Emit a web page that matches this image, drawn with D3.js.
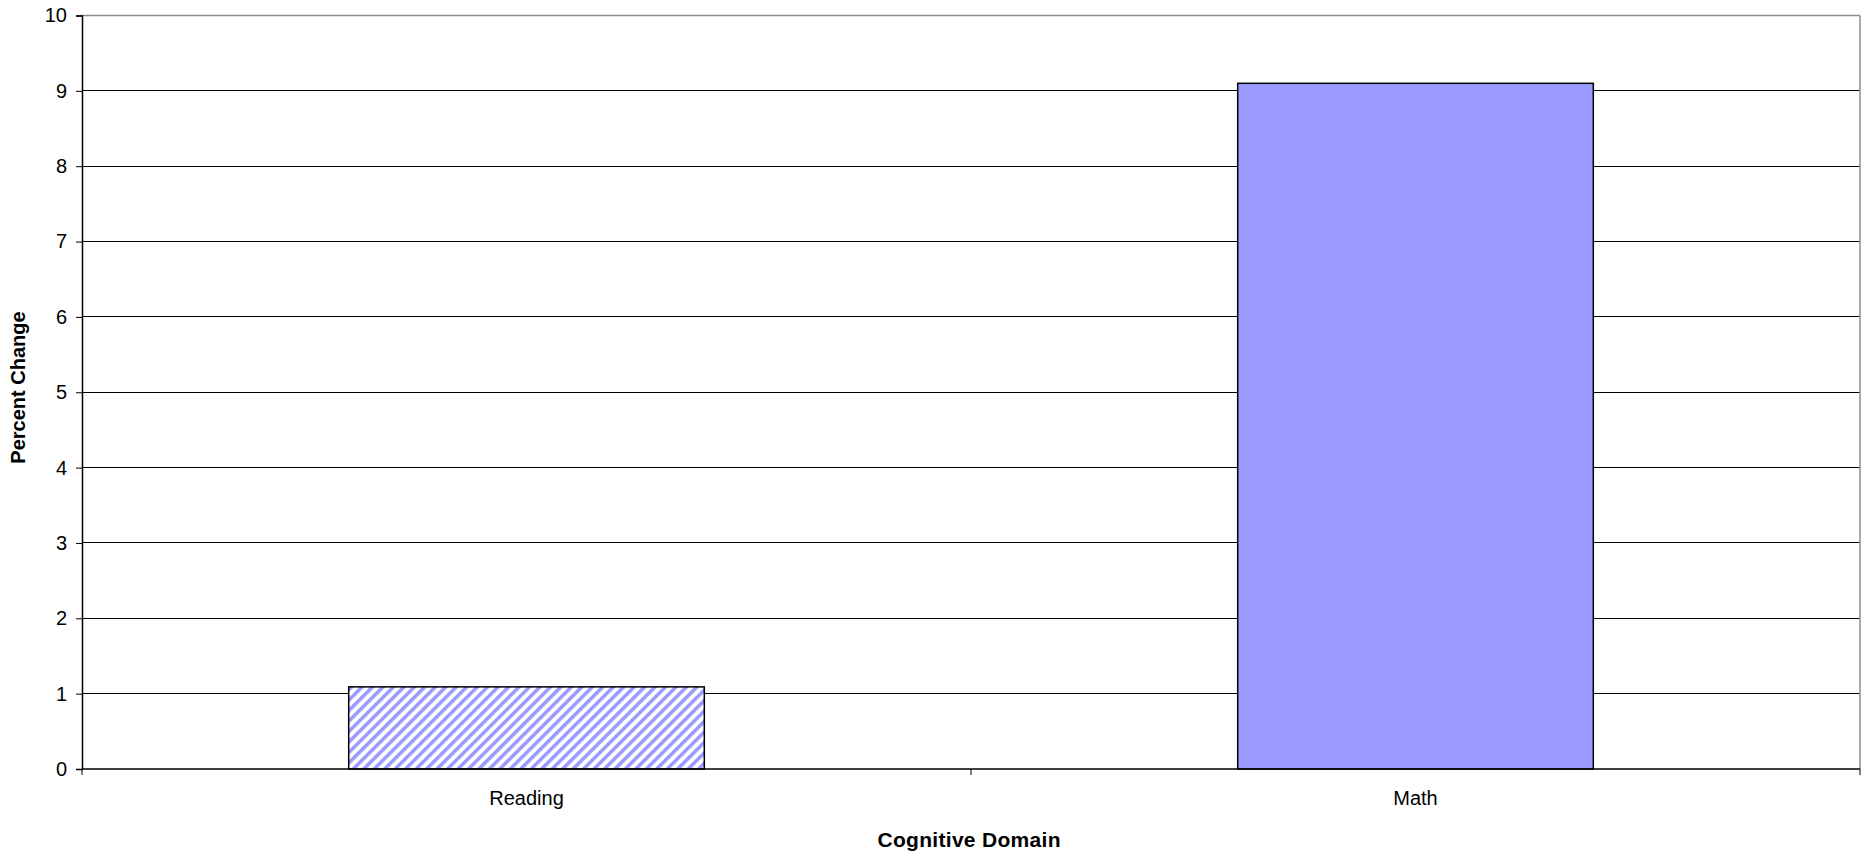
<!DOCTYPE html>
<html>
<head>
<meta charset="utf-8">
<script src="https://cdn.jsdelivr.net/npm/d3@7"></script>
<style>
html,body{margin:0;padding:0;background:#fff;}
svg{display:block;}
text{font-family:"Liberation Sans",Arial,sans-serif;fill:#000;}
</style>
</head>
<body>
<svg id="chart" width="1862" height="855"></svg>
<script>
const categories = ["Reading", "Math"];
const values = [1.09, 9.1];
const yTicks = [0,1,2,3,4,5,6,7,8,9,10];
const xTitle = "Cognitive Domain";
const yTitle = "Percent Change";

const W = 1862, H = 855;
const mLeft = 82, mRight = 1860, mTop = 15.5, mBottom = 769;

const svg = d3.select("#chart");

const defs = svg.append("defs");
const pat = defs.append("pattern")
  .attr("id","hatch")
  .attr("patternUnits","userSpaceOnUse")
  .attr("width",7.4).attr("height",7.4)
  .attr("patternTransform","rotate(45)");
pat.append("rect").attr("width",7.4).attr("height",7.4).attr("fill","#fff");
pat.append("rect").attr("width",3.5).attr("height",7.4).attr("fill","#9999FF");

const x = d3.scaleBand().domain(categories).range([mLeft,mRight])
  .paddingInner(0.6).paddingOuter(0.3);
const y = d3.scaleLinear().domain([0,10]).range([mBottom,mTop]);

// gridlines
svg.append("g").selectAll("line")
  .data(yTicks.filter(t => t > 0 && t < 10))
  .join("line")
  .attr("x1",mLeft).attr("x2",mRight)
  .attr("y1",d=>y(d)).attr("y2",d=>y(d))
  .attr("stroke","#000").attr("stroke-width",1).attr("shape-rendering","crispEdges");

// plot border (top & right), gray
svg.append("line").attr("x1",mLeft).attr("x2",mRight).attr("y1",y(10)).attr("y2",y(10))
  .attr("stroke","#8c8c8c").attr("stroke-width",1.5);
svg.append("line").attr("x1",mRight).attr("x2",mRight).attr("y1",y(10)).attr("y2",mBottom)
  .attr("stroke","#8c8c8c").attr("stroke-width",1.5);

// bars
svg.append("g").selectAll("rect")
  .data(categories.map((c,i)=>({c, v: values[i]})))
  .join("rect")
  .attr("x",d=>x(d.c))
  .attr("width",x.bandwidth())
  .attr("y",d=>y(d.v))
  .attr("height",d=>y(0)-y(d.v))
  .attr("fill",d=>d.c==="Reading" ? "url(#hatch)" : "#9999FF")
  .attr("stroke","#000").attr("stroke-width",1.5);

// y axis
const yAxis = svg.append("g").attr("transform",`translate(${mLeft},0)`)
  .call(d3.axisLeft(y).tickValues(yTicks).tickSize(6).tickPadding(9).tickFormat(d3.format("d")));
yAxis.select(".domain").attr("stroke","#000").attr("stroke-width",1.5);
yAxis.selectAll(".tick line").attr("stroke","#000");
yAxis.selectAll("text").style("font-size","20px").attr("fill","#000");

// x axis line
svg.append("line").attr("x1",mLeft).attr("x2",mRight).attr("y1",mBottom).attr("y2",mBottom)
  .attr("stroke","#000").attr("stroke-width",1.5);
// x boundary ticks
const bounds = d3.range(categories.length+1).map(i => x.range()[0] + i*x.step());
svg.append("g").selectAll("line").data(bounds).join("line")
  .attr("x1",d=>d).attr("x2",d=>d).attr("y1",mBottom).attr("y2",mBottom+6)
  .attr("stroke","#000").attr("stroke-width",1);

// x labels
const xAxis = svg.append("g").attr("transform",`translate(0,${mBottom})`)
  .call(d3.axisBottom(x).tickSize(0).tickPadding(22));
xAxis.select(".domain").remove();
xAxis.selectAll("text").style("font-size","20px").attr("fill","#000");

// titles
svg.append("text").attr("x",(mLeft+mRight)/2 - 2).attr("y",847)
  .attr("text-anchor","middle").style("font-size","21px").style("font-weight","bold")
  .attr("textLength",183).attr("lengthAdjust","spacing")
  .text(xTitle);
svg.append("text").attr("transform",`translate(25,387.5) rotate(-90)`)
  .attr("text-anchor","middle").style("font-size","20px").style("font-weight","bold")
  .text(yTitle);
</script>
</body>
</html>
